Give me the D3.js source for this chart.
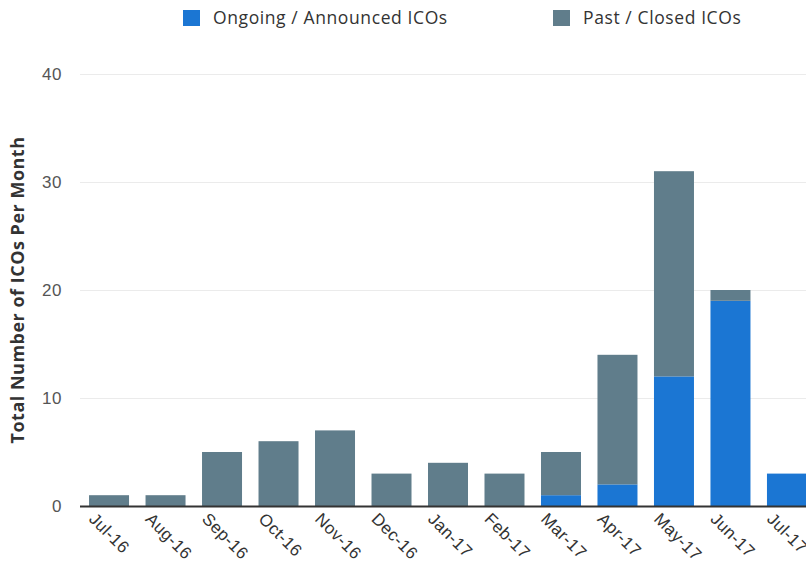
<!DOCTYPE html>
<html>
<head>
<meta charset="utf-8">
<script src="https://cdn.jsdelivr.net/npm/d3@7"></script>
<style>
  html, body { margin: 0; padding: 0; background: #fff; }
  svg { display: block; font-family: "Open Sans", "Noto Sans", sans-serif; }
</style>
</head>
<body>
<svg id="chart" width="806" height="568"></svg>
<script>
// Monthly ICO counts, split by status
const months = ["Jul-16","Aug-16","Sep-16","Oct-16","Nov-16","Dec-16","Jan-17","Feb-17","Mar-17","Apr-17","May-17","Jun-17","Jul-17"];
const ongoing = [0, 0, 0, 0, 0, 0, 0, 0, 1, 2, 12, 19, 3];
const past    = [1, 1, 5, 6, 7, 3, 4, 3, 4, 12, 19, 1, 0];
const yTicks  = [0, 10, 20, 30, 40];
const seriesNames = ["Ongoing / Announced ICOs", "Past / Closed ICOs"];
const seriesColors = ["#1b76d3", "#607d8b"];

const svg = d3.select("#chart");
const yBase = 506, yTop = 74, xLeft = 80;

const x = d3.scaleBand()
  .domain(months)
  .range([xLeft, 816])
  .paddingInner(0.292)
  .paddingOuter(0.16);

const y = d3.scaleLinear().domain([0, 40]).range([yBase, yTop]);

// gridlines + y tick labels
const yAxis = d3.axisLeft(y).tickValues(yTicks).tickSize(-(806 - xLeft)).tickPadding(18);
const gy = svg.append("g").attr("transform", `translate(${xLeft},0)`).call(yAxis);
gy.select(".domain").remove();
gy.selectAll(".tick line").attr("stroke", "#ebebeb").attr("stroke-width", 1);
gy.selectAll(".tick text")
  .attr("fill", "#555")
  .style("font-size", "17px")
  .style("letter-spacing", "0.5px");

// stacked bars
const rows = months.map((m, i) => ({ month: m, ongoing: ongoing[i], past: past[i] }));
const stack = d3.stack().keys(["ongoing", "past"]);
const layers = stack(rows);

svg.append("g").selectAll("g")
  .data(layers)
  .join("g")
  .attr("fill", (d, i) => seriesColors[i])
  .selectAll("rect")
  .data(d => d.filter(s => s[1] > s[0]))
  .join("rect")
  .attr("x", d => x(d.data.month))
  .attr("width", x.bandwidth())
  .attr("y", d => y(d[1]))
  .attr("height", d => y(d[0]) - y(d[1]));

// baseline + x labels
const xAxis = d3.axisBottom(x).tickSize(0).tickPadding(0);
const gx = svg.append("g").attr("transform", `translate(0,${yBase})`).call(xAxis);
gx.select(".domain")
  .attr("d", `M${xLeft},0.5H806`)
  .attr("stroke", "#333")
  .attr("stroke-width", 2);
gx.selectAll(".tick text")
  .attr("fill", "#333")
  .style("font-size", "17px")
  .style("letter-spacing", "0.4px")
  .attr("text-anchor", "start")
  .attr("dy", null)
  .attr("y", 0)
  .attr("transform", "translate(-21,14) rotate(45)");

// y axis title
svg.append("text")
  .attr("transform", `translate(24,${(yTop + yBase) / 2 + 0}) rotate(-90)`)
  .attr("text-anchor", "middle")
  .attr("fill", "#333")
  .style("font-size", "18px")
  .style("font-weight", "bold")
  .style("letter-spacing", "0.5px")
  .text("Total Number of ICOs Per Month");

// legend
const legendX = [183, 553];
const legend = svg.append("g").selectAll("g")
  .data(seriesNames)
  .join("g")
  .attr("transform", (d, i) => `translate(${legendX[i]},10)`);
legend.append("rect")
  .attr("width", 17).attr("height", 16)
  .attr("fill", (d, i) => seriesColors[i]);
legend.append("text")
  .attr("x", 30).attr("y", 14)
  .attr("fill", "#333")
  .style("font-size", "17.5px")
  .style("letter-spacing", "0.6px")
  .text(d => d);
</script>
</body>
</html>
